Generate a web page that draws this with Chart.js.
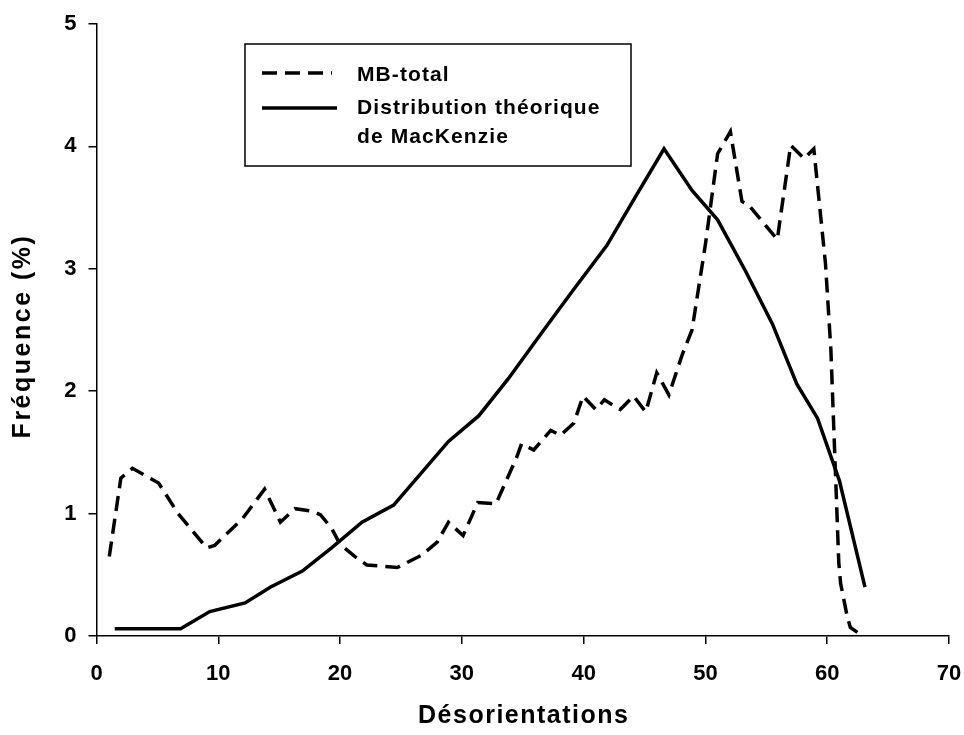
<!DOCTYPE html>
<html>
<head>
<meta charset="utf-8">
<script src="https://cdn.jsdelivr.net/npm/chart.js@4"></script>
<style>
  body { margin: 0; background: #fff; }
</style>
</head>
<body>
<canvas id="chart" width="964" height="735"></canvas>
<script>
// MB-total (dashed)
const MB_X = [1.05, 2.0, 2.95, 5.1, 6.7, 9.05, 9.7, 12.0, 13.8, 15.1, 16.3, 17.7, 18.4, 19.3, 20.0, 21.2, 22.2, 24.7, 26.7, 28.0,
              28.9, 30.1, 31.3, 32.8, 34.5, 34.9, 35.9, 37.3, 38.1, 39.2, 39.95, 41.0, 41.7, 43.0, 43.4, 44.1, 45.1, 46.0, 47.0, 48.1,
              48.9, 50.0, 51.0, 52.05, 53.0, 53.56, 55.9, 57.0, 58.1, 58.9, 59.86, 60.3, 60.95, 61.1, 61.64, 61.9, 62.9]
const MB_Y = [0.65, 1.29, 1.37, 1.25, 1.0, 0.72, 0.74, 0.96, 1.2, 0.93, 1.04, 1.02, 0.99, 0.88, 0.75, 0.65, 0.58, 0.56, 0.66, 0.77,
              0.93, 0.82, 1.09, 1.08, 1.46, 1.57, 1.52, 1.68, 1.64, 1.74, 1.96, 1.85, 1.93, 1.85, 1.89, 1.96, 1.83, 2.15, 1.97, 2.30,
              2.5, 3.2, 3.94, 4.12, 3.55, 3.52, 3.24, 4.01, 3.90, 3.98, 3.04, 2.34, 0.6, 0.43, 0.16, 0.07, 0.0]

// theoretical MacKenzie distribution (solid)
const MK_X = [1.5, 6.9, 9.3, 12.2, 14.3, 16.9, 19.3, 21.8, 24.4, 28.9, 31.4, 33.8, 36.5, 39.1, 41.9, 44.2, 46.6, 48.9, 51.0, 53.3,
              55.5, 57.5, 59.2, 61.0, 63.1]
const MK_Y = [0.06, 0.06, 0.20, 0.27, 0.40, 0.53, 0.72, 0.93, 1.07, 1.59, 1.80, 2.10, 2.47, 2.82, 3.19, 3.58, 3.98, 3.64, 3.40, 2.98,
              2.55, 2.06, 1.78, 1.27, 0.40]

const X_TICKS = [0, 10, 20, 30, 40, 50, 60, 70]
const Y_TICKS = [0, 1, 2, 3, 4, 5]
const X_TITLE = 'Désorientations'
const Y_TITLE = 'Fréquence (%)'
const LABELS = [['MB-total'], ['Distribution théorique', 'de MacKenzie']]

const FONT = '"Liberation Sans", Arial, sans-serif'

function toPoints(xs, ys){
    return xs.map((x, i) => ({x: x, y: ys[i]}))
}

// axis titles, a bit spaced out like the original
const axisTitles = {
    id: 'axisTitles',
    afterDraw(chart){
        const ctx = chart.ctx
        const a = chart.chartArea
        ctx.save()
        ctx.fillStyle = '#000'
        ctx.textAlign = 'center'
        ctx.textBaseline = 'middle'
        ctx.font = 'bold 25px ' + FONT
        ctx.letterSpacing = '1.5px'
        ctx.fillText(X_TITLE, (a.left + a.right) / 2 + 1, 716)
        ctx.letterSpacing = '2.5px'
        ctx.translate(23, 337)
        ctx.rotate(-Math.PI / 2)
        ctx.fillText(Y_TITLE, 1, 0)
        ctx.restore()
    }
}

// boxed legend inside the plot
const boxLegend = {
    id: 'boxLegend',
    afterDraw(chart){
        const ctx = chart.ctx
        ctx.save()
        ctx.strokeStyle = '#000'
        ctx.lineWidth = 1.5
        ctx.strokeRect(245, 44, 386, 122)
        const rows = [73, 108]
        chart.data.datasets.forEach((ds, i) => {
            ctx.beginPath()
            ctx.lineWidth = ds.borderWidth
            ctx.setLineDash(ds.borderDash || [])
            ctx.moveTo(262, rows[i])
            ctx.lineTo(i === 0 ? 332 : 337, rows[i])
            ctx.stroke()
        })
        ctx.setLineDash([])
        ctx.fillStyle = '#000'
        ctx.font = 'bold 21px ' + FONT
        ctx.letterSpacing = '1.1px'
        ctx.textBaseline = 'middle'
        ctx.fillText(LABELS[0][0], 357, 75)
        ctx.fillText(LABELS[1][0], 357, 108)
        ctx.fillText(LABELS[1][1], 357, 137)
        ctx.restore()
    }
}

new Chart(document.getElementById('chart'), {
    type: 'line',
    data: {
        datasets: [
            {
                label: LABELS[0].join(' '),
                data: toPoints(MB_X, MB_Y),
                borderColor: '#000',
                borderWidth: 3.5,
                borderDash: [15, 8],
                pointRadius: 0,
                tension: 0,
                fill: false
            },
            {
                label: LABELS[1].join(' '),
                data: toPoints(MK_X, MK_Y),
                borderColor: '#000',
                borderWidth: 3.5,
                pointRadius: 0,
                tension: 0,
                fill: false
            }
        ]
    },
    options: {
        responsive: false,
        animation: false,
        layout: { padding: { top: 24, right: 15, left: 0, bottom: 0 } },
        plugins: {
            legend: { display: false },
            tooltip: { enabled: false }
        },
        scales: {
            x: {
                type: 'linear',
                min: 0,
                max: 70,
                afterBuildTicks: (s) => { s.ticks = X_TICKS.map(v => ({value: v})) },
                afterFit: (s) => { s.height = 99; s.paddingLeft = 0; s.paddingRight = 0 },
                grid: { drawOnChartArea: false, drawTicks: true, tickLength: 8, color: '#000', lineWidth: 1.5 },
                border: { display: true, color: '#000', width: 1.5 },
                ticks: { color: '#000', padding: 17, font: { family: FONT, size: 22, weight: 'bold' } }
            },
            y: {
                type: 'linear',
                min: 0,
                max: 5,
                afterBuildTicks: (s) => { s.ticks = Y_TICKS.map(v => ({value: v})) },
                afterFit: (s) => { s.width = 96.5; s.paddingTop = 0; s.paddingBottom = 0 },
                grid: { drawOnChartArea: false, drawTicks: true, tickLength: 8, color: '#000', lineWidth: 1.5 },
                border: { display: true, color: '#000', width: 1.5 },
                ticks: { color: '#000', padding: 12, font: { family: FONT, size: 22, weight: 'bold' } }
            }
        }
    },
    plugins: [axisTitles, boxLegend]
});
</script>
</body>
</html>
